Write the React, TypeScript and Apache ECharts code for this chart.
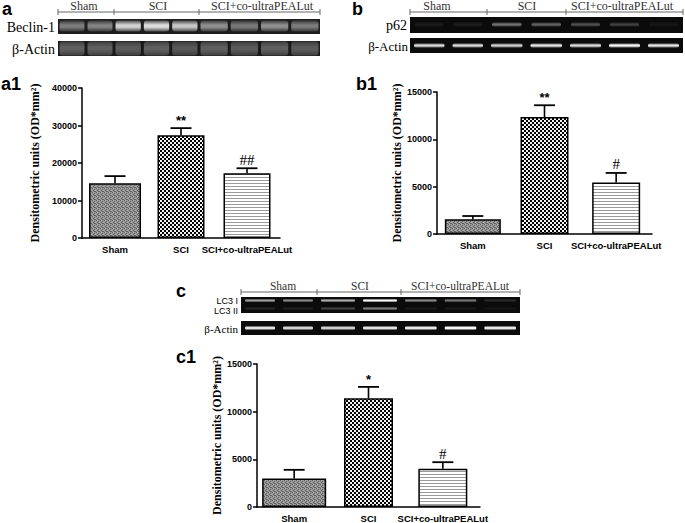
import React, { useEffect, useRef } from "react";
import * as echarts from "echarts";

// ---------- data ----------
const categories = ["Sham", "SCI", "SCI+co-ultraPEALut"];

const beclinMean = [14600, 27400, 17300];
const beclinSem = [1900, 1900, 1300];
const beclinSig = ["", "**", "##"];
const beclinTicks = [0, 10000, 20000, 30000, 40000];

const p62Mean = [1550, 12350, 5450];
const p62Sem = [350, 1250, 1000];
const p62Sig = ["", "**", "#"];
const p62Ticks = [0, 5000, 10000, 15000];

const lc3Mean = [3000, 11400, 4000];
const lc3Sem = [900, 1200, 700];
const lc3Sig = ["", "*", "#"];
const lc3Ticks = [0, 5000, 10000, 15000];

const yName = "Densitometric units (OD*mm\u00b2)";
const groupLabels = ["Sham", "SCI", "SCI+co-ultraPEALut"];

// blot lane intensities (0..1)
const beclinLanes = [0.42, 0.45, 0.8, 0.85, 0.75, 0.5, 0.4, 0.5, 0.42];
const beclinActinLanes = [0.3, 0.3, 0.28, 0.3, 0.27, 0.3, 0.28, 0.3, 0.28];
const p62Lanes = [0.07, 0.08, 0.42, 0.35, 0.28, 0.22, 0.05];
const p62ActinLanes = [0.85, 0.85, 0.8, 0.9, 0.85, 0.97, 0.9];
const lc3ILanes = [0.6, 0.5, 0.65, 0.97, 0.5, 0.42, 0.12];
const lc3IILanes = [0.1, 0.08, 0.22, 0.45, 0.06, 0.05, 0.04];
const lc3ActinLanes = [0.88, 0.82, 0.8, 0.88, 0.9, 0.97, 0.9];

// ---------- helpers ----------
const SERIF = '"Liberation Serif", "Times New Roman", serif';
const SANS = '"Liberation Sans", Arial, sans-serif';

function makePattern(w: number, h: number, draw: (c: CanvasRenderingContext2D) => void) {
  const cv = document.createElement("canvas");
  cv.width = w;
  cv.height = h;
  const ctx = cv.getContext("2d")!;
  draw(ctx);
  return { image: cv.toDataURL(), repeat: "repeat", imageWidth: w, imageHeight: h } as any;
}

function laneEdges(bounds: number[], counts: number[]) {
  const out: [number, number][] = [];
  for (let g = 0; g < counts.length; g++) {
    const a = bounds[g], b = bounds[g + 1], n = counts[g];
    for (let k = 0; k < n; k++) out.push([a + ((b - a) * k) / n, a + ((b - a) * (k + 1)) / n]);
  }
  return out;
}

function vgrad(edge: number, mid: number) {
  return {
    type: "linear", x: 0, y: 0, x2: 0, y2: 1,
    colorStops: [
      { offset: 0, color: `rgba(255,255,255,${edge})` },
      { offset: 0.4, color: `rgba(255,255,255,${mid})` },
      { offset: 0.6, color: `rgba(255,255,255,${mid})` },
      { offset: 1, color: `rgba(255,255,255,${edge})` },
    ],
  };
}

function blotRow(bounds: number[], counts: number[], y0: number, y1: number, bg: string,
  intens: number[], cy: number, bh: number, inset: number, edgeAlpha = 0) {
  const els: any[] = [
    { type: "rect", shape: { x: bounds[0], y: y0, width: bounds[bounds.length - 1] - bounds[0], height: y1 - y0 }, style: { fill: bg }, silent: true },
  ];
  laneEdges(bounds, counts).forEach(([a, b], i) => {
    els.push({
      type: "rect",
      shape: { x: a + inset, y: cy - bh / 2, width: b - a - 2 * inset, height: bh, r: Math.min(bh / 2, 3) },
      style: { fill: vgrad(edgeAlpha * intens[i], intens[i]) },
      silent: true,
    });
  });
  return els;
}

function bracket(bounds: number[], y: number, centers: number[], labelY: number, fs: number) {
  const els: any[] = [
    { type: "line", shape: { x1: bounds[0], y1: y, x2: bounds[bounds.length - 1], y2: y }, style: { stroke: "#666", lineWidth: 1 }, silent: true },
  ];
  bounds.forEach((bx) => {
    els.push({ type: "line", shape: { x1: bx, y1: y - 3, x2: bx, y2: y + 3 }, style: { stroke: "#666", lineWidth: 1 }, silent: true });
  });
  groupLabels.forEach((t, i) => {
    els.push({ type: "text", x: centers[i], y: labelY, style: { text: t, font: `${fs}px ${SERIF}`, fill: "#333", textAlign: "center", textVerticalAlign: "middle" }, silent: true });
  });
  return els;
}

function label(text: string, x: number, y: number, font: string, align = "left") {
  return { type: "text", x, y, style: { text, font, fill: "#000", textAlign: align, textVerticalAlign: "middle" }, silent: true };
}

export default function App() {
  const ref = useRef<HTMLDivElement>(null);
  useEffect(() => {
    document.body.style.margin = "0";
    const chart = echarts.init(ref.current!, null, { renderer: "svg" });

    const shamPat = makePattern(4, 4, (c) => {
      c.fillStyle = "#969696";
      c.fillRect(0, 0, 4, 4);
      c.fillStyle = "#5e5e5e";
      [[0, 0], [2, 1], [1, 2], [3, 3], [2, 3]].forEach(([x, y]) => c.fillRect(x, y, 1, 1));
      c.fillStyle = "#b8b8b8";
      [[1, 0], [3, 2]].forEach(([x, y]) => c.fillRect(x, y, 1, 1));
    });
    const sciPat = makePattern(4, 4, (c) => {
      c.fillStyle = "#000";
      c.fillRect(0, 0, 4, 4);
      c.fillStyle = "#f4f4f4";
      c.fillRect(0, 0, 2, 2);
      c.fillRect(2, 2, 2, 2);
    });
    const stripePat = makePattern(3, 3, (c) => {
      c.fillStyle = "#ffffff";
      c.fillRect(0, 0, 3, 3);
      c.fillStyle = "#9a9a9a";
      c.fillRect(0, 0, 3, 1);
    });
    const pats = [shamPat, sciPat, stripePat];

    const grids = [
      { left: 82, top: 88, width: 198, height: 150 },
      { left: 437, top: 92, width: 215, height: 142 },
      { left: 257, top: 364, width: 223, height: 143 },
    ];
    const panels = [
      { mean: beclinMean, sem: beclinSem, sig: beclinSig, ticks: beclinTicks, shamW: 52, w: 47, gap: 41 },
      { mean: p62Mean, sem: p62Sem, sig: p62Sig, ticks: p62Ticks, shamW: 56, w: 48, gap: 29 },
      { mean: lc3Mean, sem: lc3Sem, sig: lc3Sig, ticks: lc3Ticks, shamW: 64, w: 49, gap: 29 },
    ];

    const xAxis: any[] = [];
    const yAxis: any[] = [];
    const series: any[] = [];

    panels.forEach((p, gi) => {
      xAxis.push({
        type: "category", gridIndex: gi, data: categories,
        axisLine: { lineStyle: { color: "#000", width: 1.5 } },
        axisTick: { show: false },
        axisLabel: { color: "#000", fontFamily: SANS, fontWeight: "bold", fontSize: 9.5, margin: 6, interval: 0 },
      });
      xAxis.push({ type: "category", gridIndex: gi, data: categories, show: false });
      const step = p.ticks[1] - p.ticks[0];
      yAxis.push({
        type: "value", gridIndex: gi, min: p.ticks[0], max: p.ticks[p.ticks.length - 1], interval: step,
        name: yName, nameLocation: "middle", nameRotate: 90, nameGap: p.gap,
        nameTextStyle: { fontFamily: SERIF, fontWeight: "bold", fontSize: 12, color: "#000" },
        axisLine: { show: true, lineStyle: { color: "#000", width: 1.5 } },
        axisTick: { show: true, length: 4, lineStyle: { color: "#000", width: 1.5 } },
        splitLine: { show: false },
        axisLabel: {
          color: "#000", fontFamily: SANS, fontWeight: "bold", fontSize: 9, margin: 5,
          formatter: (v: number) => String(v),
        },
      });
      const xv = gi * 2, xh = gi * 2 + 1;
      series.push({
        type: "bar", xAxisIndex: xh, yAxisIndex: gi, barWidth: p.shamW,
        data: p.mean.map((v, i) => (i === 0 ? { value: v, itemStyle: { color: pats[0] } } : "-")),
        itemStyle: { borderColor: "#000", borderWidth: 1.5 },
        silent: true,
      });
      series.push({
        type: "bar", xAxisIndex: xv, yAxisIndex: gi, barWidth: p.w,
        data: p.mean.map((v, i) => (i === 0 ? "-" : { value: v, itemStyle: { color: pats[i] } })),
        itemStyle: { borderColor: "#000", borderWidth: 1.5 },
        silent: true,
      });
      series.push({
        type: "custom", xAxisIndex: xv, yAxisIndex: gi, silent: true, z: 5,
        encode: { x: 0, y: 1 },
        data: p.mean.map((m, i) => [i, m, p.sem[i]]),
        renderItem: (params: any, api: any) => {
          const i = api.value(0), m = api.value(1), e = api.value(2);
          const base = api.coord([i, m]);
          const top = api.coord([i, m + e]);
          const s = p.sig[i];
          const children: any[] = [
            { type: "line", shape: { x1: base[0], y1: base[1], x2: top[0], y2: top[1] }, style: { stroke: "#000", lineWidth: 1.6 } },
            { type: "line", shape: { x1: top[0] - 10.5, y1: top[1], x2: top[0] + 10.5, y2: top[1] }, style: { stroke: "#000", lineWidth: 1.8 } },
          ];
          if (s) {
            const isHash = s.indexOf("#") >= 0;
            children.push({
              type: "text", x: top[0], y: top[1] - 1,
              style: {
                text: s,
                font: isHash ? `15px ${SERIF}` : `bold 13px ${SANS}`,
                fill: "#000", textAlign: "center", textVerticalAlign: "bottom",
              },
            });
          }
          return { type: "group", children };
        },
      });
    });

    // ---------- blots ----------
    const aB = [58, 114, 199, 320], aC = [2, 3, 4];
    const bB = [410, 487, 566, 683], bC = [2, 2, 3];
    const cB = [241, 317, 401, 520], cC = [2, 2, 3];

    const graphics: any[] = [
      ...bracket(aB, 12, [84, 158, 262], 6, 12),
      ...blotRow(aB, aC, 19, 34, "#1e1e1e", beclinLanes, 26, 11, 1.5, 0.25),
      ...blotRow(aB, aC, 41, 56, "#1a1a1a", beclinActinLanes, 48.5, 14, 1.5, 0.55),
      label("Beclin-1", 55, 27, `14px ${SERIF}`, "right"),
      label("\u03b2-Actin", 55, 49, `14px ${SERIF}`, "right"),
      ...bracket(bB, 12, [437, 527, 622], 6, 12),
      ...blotRow(bB, bC, 17, 33, "#0b0b0b", p62Lanes, 24.5, 5, 5),
      ...blotRow(bB, bC, 38, 53, "#0b0b0b", p62ActinLanes, 45.5, 5, 4),
      label("p62", 407, 25, `14px ${SERIF}`, "right"),
      label("\u03b2-Actin", 408, 46, `13px ${SERIF}`, "right"),
      ...bracket(cB, 292, [283, 360, 460], 286, 11.5),
      ...blotRow(cB, cC, 297, 313, "#0b0b0b", lc3ILanes, 300.5, 4, 4),
      ...blotRow(cB, cC, 297, 297.1, "#0b0b0b", lc3IILanes, 308.5, 4, 4),
      ...blotRow(cB, cC, 321, 335, "#0b0b0b", lc3ActinLanes, 328, 5, 4),
      label("LC3 I", 238, 301, `9px ${SANS}`, "right"),
      label("LC3 II", 238, 311, `9px ${SANS}`, "right"),
      label("\u03b2-Actin", 238, 329, `11px ${SERIF}`, "right"),
      label("a", 2, 9, `bold 18px ${SANS}`),
      label("b", 352, 9, `bold 18px ${SANS}`),
      label("c", 176, 291, `bold 18px ${SANS}`),
      label("a1", 1, 84, `bold 18px ${SANS}`),
      label("b1", 356, 84, `bold 18px ${SANS}`),
      label("c1", 176, 357, `bold 18px ${SANS}`),
    ];

    chart.setOption({
      animation: false,
      backgroundColor: "#ffffff",
      grid: grids,
      xAxis,
      yAxis,
      series,
      graphic: { elements: graphics },
    });
    return () => chart.dispose();
  }, []);
  return <div ref={ref} style={{ position: "fixed", left: 0, top: 0, width: 685, height: 523 }} />;
}
